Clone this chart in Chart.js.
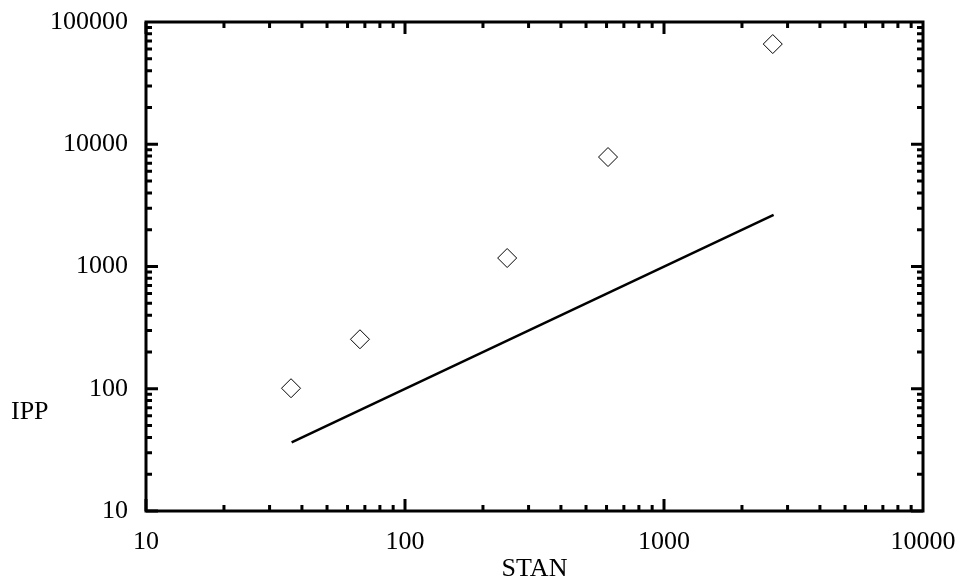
<!DOCTYPE html>
<html>
<head>
<meta charset="utf-8">
<script src="https://cdn.jsdelivr.net/npm/chart.js@4"></script>
<style>
  html, body { margin: 0; padding: 0; background: #fff; }
  #wrap { width: 957px; height: 580px; }
</style>
</head>
<body>
<div id="wrap"><canvas id="chart" width="957" height="580"></canvas></div>
<script>
// data
const stanValues = [36.3, 67, 248, 608, 2630];
const ippValues = [101, 254, 1173, 7860, 66000];
const fitX = [36.5, 2650];
const fitY = [36.5, 2650];

const xTicks = [10, 100, 1000, 10000];
const yTicks = [10, 100, 1000, 10000, 100000];

const FONT = { family: "'Liberation Serif', 'Times New Roman', serif", size: 26 };

// frame with inward ticks on all four sides, plus the horizontal IPP label
const frameTicks = {
    id: 'frameTicks',
    afterDraw: function (chart) {
        const ctx = chart.ctx;
        const a = chart.chartArea;
        const xs = chart.scales.x;
        const ys = chart.scales.y;
        ctx.save();
        ctx.strokeStyle = '#000';
        ctx.lineWidth = 3;
        ctx.strokeRect(a.left, a.top, a.right - a.left, a.bottom - a.top);

        ctx.beginPath();
        // x ticks (bottom and top)
        for (let e = 1; e < 4; e++) {
            for (let k = 1; k <= 9; k++) {
                const v = k * Math.pow(10, e);
                if (v > xs.max) break;
                const px = xs.getPixelForValue(v);
                const len = k === 1 ? 12 : 6;
                ctx.moveTo(px, a.bottom); ctx.lineTo(px, a.bottom - len);
                ctx.moveTo(px, a.top); ctx.lineTo(px, a.top + len);
            }
        }
        // y ticks (left and right)
        for (let e = 1; e < 5; e++) {
            for (let k = 1; k <= 9; k++) {
                const v = k * Math.pow(10, e);
                if (v > ys.max) break;
                const py = ys.getPixelForValue(v);
                const len = k === 1 ? 12 : 6;
                ctx.moveTo(a.left, py); ctx.lineTo(a.left + len, py);
                ctx.moveTo(a.right, py); ctx.lineTo(a.right - len, py);
            }
        }
        ctx.stroke();

        ctx.fillStyle = '#000';
        ctx.font = FONT.size + 'px ' + FONT.family;
        ctx.textAlign = 'left';
        ctx.textBaseline = 'middle';
        ctx.fillText('IPP', 11, 412);
        ctx.restore();
    }
};

new Chart(document.getElementById('chart'), {
    type: 'scatter',
    data: {
        datasets: [{
            label: 'points',
            data: stanValues.map(function (v, i) { return { x: v, y: ippValues[i] }; }),
            pointStyle: 'rectRot',
            pointRadius: 9.5,
            pointBorderWidth: 1,
            borderColor: '#000',
            backgroundColor: 'rgba(0,0,0,0)'
        }, {
            label: 'fit',
            data: fitX.map(function (v, i) { return { x: v, y: fitY[i] }; }),
            showLine: true,
            borderColor: '#000',
            borderWidth: 2.5,
            pointRadius: 0
        }]
    },
    options: {
        responsive: false,
        animation: false,
        layout: { padding: { left: 0, right: 34, top: 22, bottom: 0 } },
        plugins: { legend: { display: false }, tooltip: { enabled: false } },
        scales: {
            x: {
                type: 'logarithmic',
                min: 10, max: 10000,
                grid: { display: false },
                border: { display: false },
                afterBuildTicks: function (s) { s.ticks = xTicks.map(function (v) { return { value: v }; }); },
                afterFit: function (s) { s.height = 69; s.paddingLeft = 0; s.paddingRight = 0; },
                ticks: {
                    autoSkip: false, maxRotation: 0, padding: 8,
                    color: '#000', font: FONT,
                    callback: function (v) { return String(v); }
                },
                title: { display: true, text: 'STAN', color: '#000', font: FONT, padding: { top: 0, bottom: -5 } }
            },
            y: {
                type: 'logarithmic',
                min: 10, max: 100000,
                grid: { display: false },
                border: { display: false },
                afterBuildTicks: function (s) { s.ticks = yTicks.map(function (v) { return { value: v }; }); },
                afterFit: function (s) { s.width = 146; s.paddingTop = 0; s.paddingBottom = 0; },
                ticks: {
                    autoSkip: false, padding: 10,
                    color: '#000', font: FONT,
                    callback: function (v) { return String(v); }
                }
            }
        }
    },
    plugins: [frameTicks]
});
</script>
</body>
</html>
